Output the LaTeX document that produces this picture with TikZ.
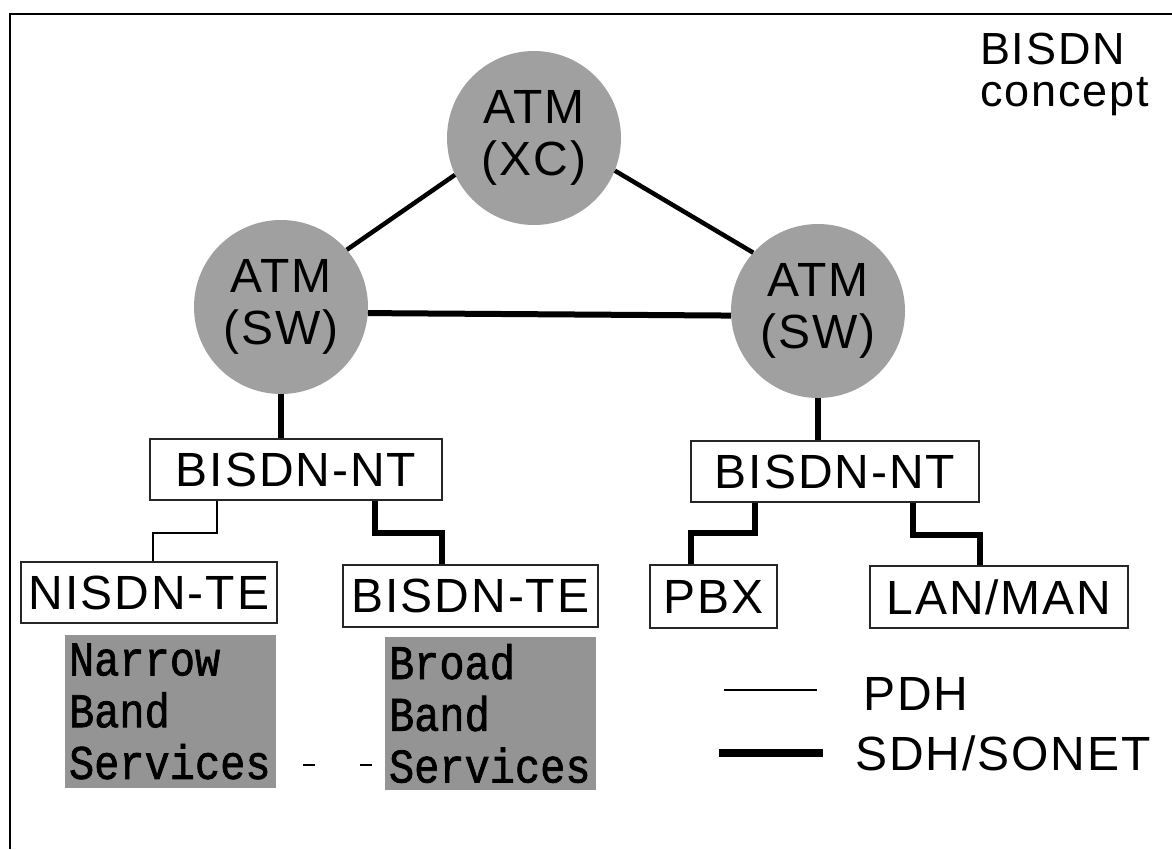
\documentclass[tikz,border=0pt]{standalone}
\usepackage{fontspec}
\setmainfont{Liberation Sans}[LetterSpace=4]
\newfontfamily\svcfont{Liberation Mono}[FakeBold=1.5]
\definecolor{circgray}{RGB}{160,160,160}
\definecolor{svcgray}{RGB}{148,148,148}
\begin{document}
\begin{tikzpicture}[x=1pt,y=-1pt,
  lbl/.style={font=\fontsize{48}{52}\selectfont, inner sep=0pt},
  atm/.style={circle, fill=circgray, minimum size=174pt, inner sep=0pt, align=center,
    font=\fontsize{48}{52}\selectfont},
  tbox/.style={draw=black!85, line width=1.4pt, inner sep=0pt,
    font=\fontsize{48}{52}\selectfont},
  svc/.style={fill=svcgray, inner sep=0pt, inner xsep=4pt, minimum width=211pt, minimum height=153pt,
    text width=203pt, align=left, font=\svcfont\fontsize{42}{45}\selectfont},
  sdh/.style={line width=6pt, line join=miter},
  link/.style={line width=4.5pt},
  pdh/.style={line width=1.2pt}]
\useasboundingbox (0,0) rectangle (1172,849);
% frame
\draw[line width=2pt] (10,849) -- (10,14) -- (1172,14);

% title
\node[anchor=base west, align=left, inner sep=0pt,
  font=\fontsize{45}{42}\selectfont] (title) at (980,106) {BISDN\\concept};

% ATM nodes
\node[atm] (XC)  at (534,138) {ATM\\(XC)};
\node[atm] (SWL) at (281,307) {ATM\\(SW)};
\node[atm] (SWR) at (818,311) {ATM\\(SW)};

% boxes
\node[tbox, minimum width=292pt, minimum height=61pt] (NTL) at (296,469.5) {BISDN-NT};
\node[tbox, minimum width=288pt, minimum height=61pt] (NTR) at (835,471.5) {BISDN-NT};
\node[tbox, minimum width=256pt, minimum height=61pt] (NISDN) at (149,592.5) {NISDN-TE};
\node[tbox, minimum width=255pt, minimum height=62pt] (BTE) at (470.5,596) {BISDN-TE};
\node[tbox, minimum width=127pt, minimum height=63pt] (PBX) at (713.5,596.5) {PBX};
\node[tbox, minimum width=258pt, minimum height=62pt] (LAN) at (999,597) {LAN/MAN};

% service boxes
\node[svc] (Narrow) at (170.5,711.5) {\scalebox{1}[1.15]{\parbox{203pt}{Narrow\\Band\\Services}}};
\node[svc] (Broad)  at (490.5,713.5) {\scalebox{1}[1.15]{\parbox{203pt}{Broad\\Band\\Services}}};

% connectors
\draw[link] (XC.205) -- (SWL.41);
\draw[link] (XC.-22) -- (SWR.138);
\draw[sdh] (SWL.-4) -- (SWR.183);
\draw[sdh] (SWL.south) -- (SWL.south |- NTL.north);
\draw[sdh] (SWR.south) -- (SWR.south |- NTR.north);
\draw[sdh] (NTL.south -| 375,0) |- (442,533) -- (BTE.north -| 442,0);
\draw[pdh] (NTL.south -| 217,0) |- (153,533) -- (NISDN.north -| 153,0);
\draw[sdh] (NTR.south -| 755,0) |- (691,533) -- (PBX.north -| 691,0);
\draw[sdh] (NTR.south -| 913,0) |- (980,535) -- (LAN.north -| 980,0);
\draw[pdh, dash pattern=on 12pt off 45pt, dash phase=30pt]
  (Narrow.east |- 0,765) -- (Broad.west |- 0,765);

% legend
\coordinate (pdhA) at (724,690);
\coordinate (pdhB) at (817,690);
\draw[pdh] (pdhA) -- (pdhB);
\node[lbl, anchor=base west] (pdhlbl) at (863,710) {PDH};
\coordinate (sdhA) at (719,753);
\coordinate (sdhB) at (823,753);
\draw[line width=8pt] (sdhA) -- (sdhB);
\node[lbl, anchor=base west] (sdhlbl) at (855,770) {SDH/SONET};
\end{tikzpicture}
\end{document}
